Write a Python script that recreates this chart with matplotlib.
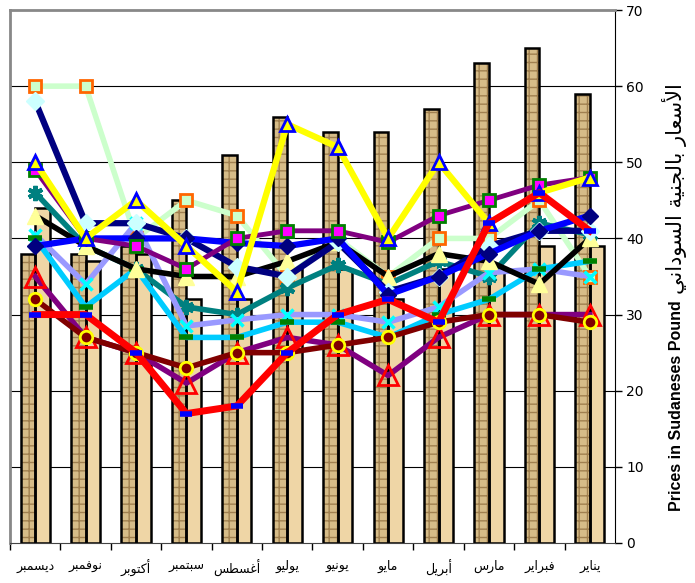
import numpy as np
import matplotlib.pyplot as plt

# Arabic letter forms: isolated, final, initial, medial
FORMS = {
    'ا': ('\uFE8D', '\uFE8E', None, None),
    'أ': ('\uFE83', '\uFE84', None, None),
    'ب': ('\uFE8F', '\uFE90', '\uFE91', '\uFE92'),
    'ة': ('\uFE93', '\uFE94', None, None),
    'ت': ('\uFE95', '\uFE96', '\uFE97', '\uFE98'),
    'ج': ('\uFE9D', '\uFE9E', '\uFE9F', '\uFEA0'),
    'د': ('\uFEA9', '\uFEAA', None, None),
    'ر': ('\uFEAD', '\uFEAE', None, None),
    'س': ('\uFEB1', '\uFEB2', '\uFEB3', '\uFEB4'),
    'ط': ('\uFEC1', '\uFEC2', '\uFEC3', '\uFEC4'),
    'ع': ('\uFEC9', '\uFECA', '\uFECB', '\uFECC'),
    'غ': ('\uFECD', '\uFECE', '\uFECF', '\uFED0'),
    'ف': ('\uFED1', '\uFED2', '\uFED3', '\uFED4'),
    'ك': ('\uFED9', '\uFEDA', '\uFEDB', '\uFEDC'),
    'ل': ('\uFEDD', '\uFEDE', '\uFEDF', '\uFEE0'),
    'م': ('\uFEE1', '\uFEE2', '\uFEE3', '\uFEE4'),
    'ن': ('\uFEE5', '\uFEE6', '\uFEE7', '\uFEE8'),
    'ه': ('\uFEE9', '\uFEEA', '\uFEEB', '\uFEEC'),
    'و': ('\uFEED', '\uFEEE', None, None),
    'ي': ('\uFEF1', '\uFEF2', '\uFEF3', '\uFEF4'),
    'لا': ('\uFEFB', '\uFEFC', None, None),
    'لأ': ('\uFEF7', '\uFEF8', None, None),
}


def shape_word(w):
    units = []
    i = 0
    while i < len(w):
        if w[i] == 'ل' and i + 1 < len(w) and w[i + 1] in 'اأ':
            units.append(w[i:i + 2])
            i += 2
        else:
            units.append(w[i])
            i += 1
    res = []
    for k, u in enumerate(units):
        if u not in FORMS:
            res.append(u)
            continue
        iso, fin, ini, med = FORMS[u]
        prev_j = k > 0 and units[k - 1] in FORMS and FORMS[units[k - 1]][2] is not None
        next_j = ini is not None and k + 1 < len(units) and units[k + 1] in FORMS
        if prev_j and next_j:
            res.append(med)
        elif prev_j:
            res.append(fin)
        elif next_j:
            res.append(ini)
        else:
            res.append(iso)
    return ''.join(res)[::-1]


def ar(text):
    return ' '.join(shape_word(w) for w in text.split()[::-1])


months = ['ديسمبر', 'نوفمبر', 'أكتوبر', 'سبتمبر', 'أغسطس', 'يوليو',
          'يونيو', 'مايو', 'أبريل', 'مارس', 'فبراير', 'يناير']

bars_dark = [38, 38, 39, 45, 51, 56, 54, 54, 57, 63, 65, 59]
bars_light = [44, 37, 38, 32, 32, 36, 36, 32, 36, 36, 39, 39]

s_navy = [58, 42, 42, 40, 36.3, 35, 39.5, 33, 35, 39, 41, 41]
s_blue = [39, 40, 40, 40, 39.4, 39, 40, 32.6, 35, 38, 41, 43]
s_yellow = [50, 40, 45, 39, 33, 55, 52, 40, 50, 42, 46, 48]
s_purple = [49, 40, 39, 36, 40, 41, 41, 39.5, 43, 45, 47, 48]
s_lgreen = [60, 60, 40, 45, 43, 35, 40, 35, 40, 40, 45, 35]
s_teal = [46, 39, 36, 31, 30, 33.5, 36.5, 34, 37, 35, 42, 40.5]
s_black = [43, 39, 36, 35, 35, 37, 39.5, 35, 38, 37, 34, 40]
s_peri = [40.5, 34, 42, 28.5, 29.3, 30, 30, 29, 31, 35.5, 36, 35]
s_sky = [40, 31, 36, 27, 27, 29, 29, 27, 30, 32, 36, 37]
s_purple2 = [35, 27, 25, 21, 25, 27, 26, 22, 27, 30, 30, 30]
s_darkred = [32, 27, 25, 23, 25, 25, 26, 27, 29, 30, 30, 29]
s_red = [30, 30, 25, 17, 18, 25, 30, 32, 29, 42, 46, 41]

x = np.arange(len(months))
w = 0.29

fig = plt.figure(figsize=(6.95, 5.83), dpi=100)
ax = fig.add_axes([10 / 695, 40 / 583, 605 / 695, 533 / 583])
ax.set_xlim(-0.5, 11.5)
ax.set_ylim(0, 70)

ax.set_yticks(range(0, 71, 10))
for yv in range(10, 70, 10):
    ax.axhline(yv, color='black', lw=0.8, zorder=0)

# bars: textured fill then black outline
plt.rcParams['hatch.linewidth'] = 1.0
ax.bar(x - w / 2, bars_dark, w, color='#d6bc88', hatch='++', edgecolor='#a08050',
       linewidth=0, zorder=1)
ax.bar(x - w / 2, bars_dark, w, fill=False, edgecolor='black', linewidth=1.8, zorder=1.1)
ax.bar(x + w / 2, bars_light, w, color='#efd6a6', edgecolor='black', linewidth=1.8, zorder=1)

lines = [
    (s_lgreen, dict(color='#ccffcc', lw=4, marker='s', ms=9, mfc='#ccffcc', mec='#ff6600', mew=2)),
    (s_teal, dict(color='#008080', lw=4, marker=(6, 2, 0), ms=11, mec='#008080', mew=3)),
    (s_peri, dict(color='#9999ff', lw=4, marker='x', ms=9, mec='#00ffff', mew=2.5)),
    (s_sky, dict(color='#00ccff', lw=4, marker='_', ms=10, mec='#008000', mew=4)),
    (s_black, dict(color='black', lw=4, marker='^', ms=11, mfc='#ffff99', mec='#ffff99', mew=1)),
    (s_navy, dict(color='#000080', lw=4.5, marker='D', ms=9, mfc='#ccffff', mec='#ccffff', mew=1)),
    (s_blue, dict(color='#0000ff', lw=4.5, marker='D', ms=8, mfc='#000080', mec='#000080', mew=1)),
    (s_purple, dict(color='#800080', lw=3.5, marker='s', ms=9, mfc='#ff00ff', mec='#008000', mew=2)),
    (s_yellow, dict(color='#ffff00', lw=4.5, marker='^', ms=10, mfc='#ffff00', mec='#0000ff', mew=2)),
    (s_purple2, dict(color='#800080', lw=4, marker='^', ms=14, mfc='none', mec='#ff0000', mew=2)),
    (s_darkred, dict(color='#800000', lw=4, marker='o', ms=9, mfc='#800000', mec='#ffff00', mew=2)),
    (s_red, dict(color='#ff0000', lw=5, marker='_', ms=8, mec='#0000ff', mew=4)),
]
for k, (vals, st) in enumerate(lines):
    ax.plot(x, vals, zorder=3 + k * 0.1, clip_on=False, **st)

ax.yaxis.tick_right()
ax.tick_params(axis='y', direction='out', length=5, width=1, labelsize=10, pad=3)
ax.set_xticks(x)
ax.set_xticklabels([ar(m) for m in months], fontsize=9)
ax.tick_params(axis='x', length=0, pad=12)
ax.set_xticks(np.arange(-0.5, 11.5, 1), minor=True)
ax.tick_params(axis='x', which='minor', direction='out', length=5, width=1)

for side in ['left', 'top']:
    ax.spines[side].set_color('#888888')
    ax.spines[side].set_linewidth(2)
ax.spines['right'].set_color('black')
ax.spines['bottom'].set_color('#444444')

fig.text(0.974, (583 - 511) / 583, 'Prices in Sudaneses Pound', rotation=90,
         ha='center', va='bottom', fontsize=11.5, fontweight='bold', family='Liberation Sans')
fig.text(0.970, (583 - 294) / 583, ar('الأسعار بالجنية السوداني'), rotation=90,
         ha='center', va='bottom', fontsize=15)

fig.savefig('out.png', dpi=100)
